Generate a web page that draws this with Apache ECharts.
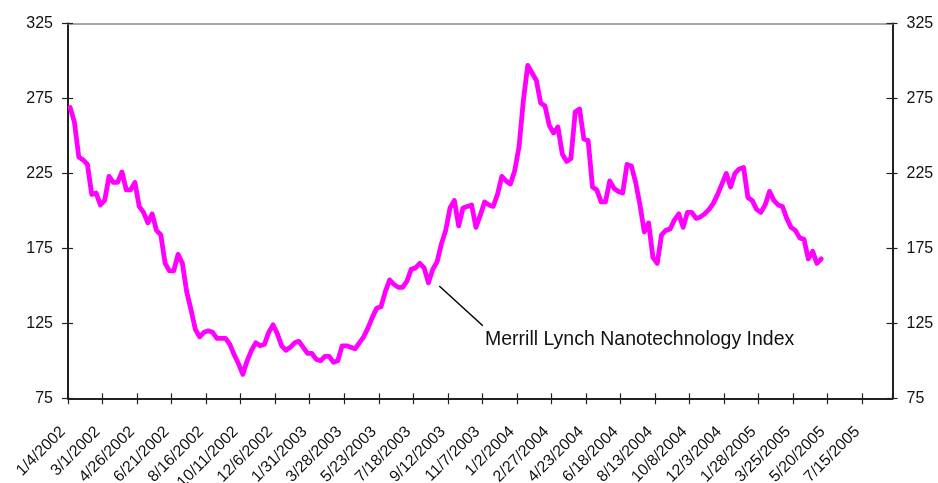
<!DOCTYPE html>
<html>
<head>
<meta charset="utf-8">
<title>Merrill Lynch Nanotechnology Index</title>
<script src="https://cdn.jsdelivr.net/npm/echarts@6/dist/echarts.min.js"></script>
<style>
  html, body { margin: 0; padding: 0; background: #fff; overflow: hidden; }
  #chart { width: 938px; height: 483px; }
</style>
</head>
<body>
<div id="chart"></div>
<script>
// Weekly closes of the index, starting the week of 1/4/2002.
const weeklyValues = [
  269, 259, 236, 234, 231, 211, 212, 204, 207, 223,
  219, 219, 226, 214, 214, 219, 203, 199, 192, 198,
  187, 184, 165, 160, 160, 171, 165, 146, 134, 121,
  116, 119, 120, 119, 115, 115, 115, 111, 104, 98,
  91, 100, 107, 112, 110, 111, 119, 124, 118, 110,
  107, 109, 112, 113, 109, 105, 105, 101, 100, 103,
  103, 99, 100, 110, 110, 109, 108, 112, 116, 122,
  129, 135, 136, 146, 154, 151, 149, 149, 153, 161,
  162, 165, 162, 152, 161, 166, 178, 187, 202, 207,
  190, 202, 203, 204, 189, 197, 206, 204, 203, 211,
  223, 220, 218, 227, 243, 274, 297, 292, 287, 272,
  270, 257, 252, 256, 238, 233, 235, 266, 268, 248,
  247, 216, 214, 206, 206, 220, 215, 213, 212, 231,
  230, 219, 204, 186, 192, 169, 165, 184, 187, 188,
  194, 198, 189, 199, 199, 195, 196, 198, 201, 205,
  211, 218, 225, 216, 225, 228, 229, 209, 207, 201,
  199, 204, 213, 207, 204, 203, 195, 189, 187, 182,
  181, 168, 173, 165, 168
];

// Date labels, one every eight weeks.
const tickLabels = [
  '1/4/2002', '3/1/2002', '4/26/2002', '6/21/2002', '8/16/2002', '10/11/2002',
  '12/6/2002', '1/31/2003', '3/28/2003', '5/23/2003', '7/18/2003', '9/12/2003',
  '11/7/2003', '1/2/2004', '2/27/2004', '4/23/2004', '6/18/2004', '8/13/2004',
  '10/8/2004', '12/3/2004', '1/28/2005', '3/25/2005', '5/20/2005', '7/15/2005'
];

const yTicks = [75, 125, 175, 225, 275, 325];

const seriesName = 'Merrill Lynch Nanotechnology Index';

const WEEKS_PER_TICK = 8;
const LAST_WEEK = 191;

// Each close sits in the middle of its week.
const points = weeklyValues.map((v, i) => [i + 0.5, v]);

const FONT = 'Liberation Sans, Arial, Helvetica, sans-serif';
const AXIS_COLOR = '#222';

const chart = echarts.init(document.getElementById('chart'), null, {
  renderer: 'canvas', width: 938, height: 483
});

const xBase = {
  type: 'value',
  min: 0,
  max: LAST_WEEK,
  interval: WEEKS_PER_TICK,
  splitLine: { show: false }
};
const yBase = {
  type: 'value',
  min: yTicks[0],
  max: yTicks[yTicks.length - 1],
  interval: yTicks[1] - yTicks[0],
  splitLine: { show: false }
};

chart.setOption({
  animation: false,
  backgroundColor: '#fff',
  grid: {
    left: 68, top: 23.5, width: 824.5, height: 374.8,
    containLabel: false,
    outerBoundsMode: 'none'
  },
  xAxis: [
    Object.assign({}, xBase, {
      position: 'bottom',
      axisLine: { show: true, onZero: false, lineStyle: { color: AXIS_COLOR, width: 2 } },
      axisTick: { show: true, inside: false, length: 6, lineStyle: { color: AXIS_COLOR, width: 1.2 } },
      axisLabel: {
        show: true,
        rotate: 45,
        margin: 26,
        padding: [0, 7, 0, 0],
        fontFamily: FONT,
        fontSize: 16,
        color: '#111',
        showMaxLabel: false,
        formatter: v => {
          const k = v / WEEKS_PER_TICK;
          return Number.isInteger(k) && tickLabels[k] ? tickLabels[k] : '';
        }
      }
    }),
    Object.assign({}, xBase, {
      position: 'bottom',
      axisLine: { show: false, onZero: false },
      axisTick: { show: true, inside: true, length: 5, lineStyle: { color: AXIS_COLOR, width: 1.2 } },
      axisLabel: { show: false }
    }),
    Object.assign({}, xBase, {
      position: 'top',
      axisLine: { show: true, onZero: false, lineStyle: { color: '#8a8a8a', width: 1.5 } },
      axisTick: { show: false },
      axisLabel: { show: false }
    })
  ],
  yAxis: [
    Object.assign({}, yBase, {
      position: 'left',
      axisLine: { show: true, onZero: false, lineStyle: { color: AXIS_COLOR, width: 2 } },
      axisTick: { show: true, inside: false, length: 6, lineStyle: { color: AXIS_COLOR, width: 1.2 } },
      axisLabel: { show: true, margin: 15, fontFamily: FONT, fontSize: 16, color: '#111' }
    }),
    Object.assign({}, yBase, {
      position: 'left',
      axisLine: { show: false, onZero: false },
      axisTick: { show: true, inside: true, length: 5, lineStyle: { color: AXIS_COLOR, width: 1.2 } },
      axisLabel: { show: false }
    }),
    Object.assign({}, yBase, {
      position: 'right',
      axisLine: { show: true, onZero: false, lineStyle: { color: AXIS_COLOR, width: 2 } },
      axisTick: { show: true, inside: false, length: 5, lineStyle: { color: AXIS_COLOR, width: 1.2 } },
      axisLabel: { show: true, margin: 14, fontFamily: FONT, fontSize: 16, color: '#111' }
    }),
    Object.assign({}, yBase, {
      position: 'right',
      axisLine: { show: false, onZero: false },
      axisTick: { show: true, inside: true, length: 6, lineStyle: { color: AXIS_COLOR, width: 1.2 } },
      axisLabel: { show: false }
    })
  ],
  series: [{
    name: seriesName,
    type: 'line',
    xAxisIndex: 0,
    yAxisIndex: 0,
    data: points,
    showSymbol: false,
    symbol: 'none',
    smooth: false,
    lineStyle: { color: '#ff00ff', width: 4.8, cap: 'round', join: 'round' },
    z: 3,
    markLine: {
      silent: true,
      symbol: ['none', 'none'],
      lineStyle: { color: '#000', width: 1.5, type: 'solid' },
      label: { show: false },
      data: [[{ coord: [86.0, 149.9] }, { coord: [96.1, 123.4] }]]
    },
    markPoint: {
      silent: true,
      symbol: 'circle',
      symbolSize: 0,
      label: {
        show: true,
        position: 'right',
        distance: 0,
        fontFamily: FONT,
        fontSize: 19.5,
        color: '#111',
        formatter: seriesName
      },
      data: [{ coord: [96.6, 114.2] }]
    }
  }]
});
</script>
</body>
</html>
